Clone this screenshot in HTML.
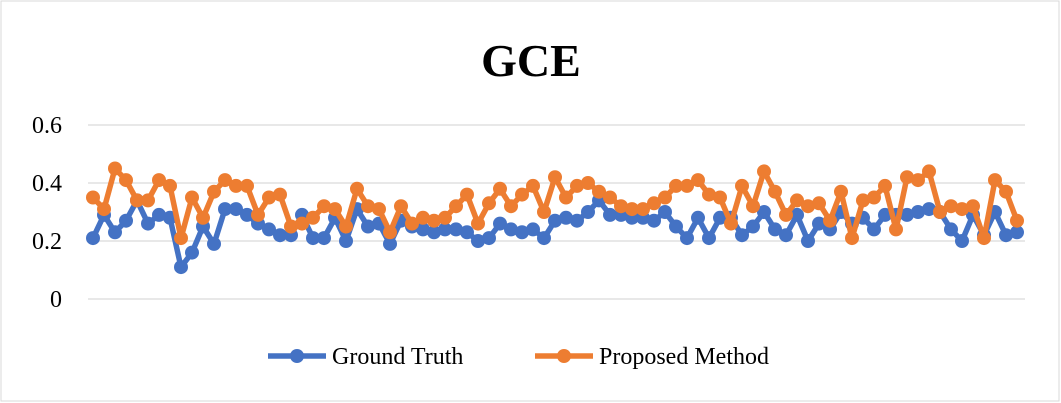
<!DOCTYPE html>
<html><head><meta charset="utf-8"><style>
body{margin:0;background:#fff;}
svg{display:block;font-family:"Liberation Serif",serif;}
</style></head><body>
<svg id="chart" width="1061" height="403">
<rect x="1" y="1" width="1058" height="400" fill="#fff" stroke="#d9d9d9"/>
<text x="531" y="76" text-anchor="middle" font-size="46" font-weight="bold">GCE</text>
<g id="grid"></g><g id="series"></g>
<g>
<g>
<line x1="268" y1="356" x2="326" y2="356" stroke="#4472c4" stroke-width="5.5"/><circle cx="297" cy="356" r="7" fill="#4472c4"/>
<text x="332" y="364" font-size="24">Ground Truth</text></g>
<g>
<line x1="535" y1="356" x2="593" y2="356" stroke="#ed7d31" stroke-width="5.5"/><circle cx="564" cy="356" r="7" fill="#ed7d31"/>
<text x="599" y="364" font-size="24">Proposed Method</text></g>
</g>
</svg>
<script>
const yTicks=[0,0.2,0.4,0.6];
const yTickLabels=["0","0.2","0.4","0.6"];
const groundTruth=[0.21,0.29,0.23,0.27,0.34,0.26,0.29,0.28,0.11,0.16,0.25,0.19,0.31,0.31,0.29,0.26,0.24,0.22,0.22,0.29,0.21,0.21,0.28,0.20,0.31,0.25,0.26,0.19,0.27,0.25,0.24,0.23,0.24,0.24,0.23,0.20,0.21,0.26,0.24,0.23,0.24,0.21,0.27,0.28,0.27,0.30,0.34,0.29,0.29,0.28,0.28,0.27,0.30,0.25,0.21,0.28,0.21,0.28,0.28,0.22,0.25,0.30,0.24,0.22,0.29,0.20,0.26,0.24,0.30,0.26,0.28,0.24,0.29,0.29,0.29,0.30,0.31,0.30,0.24,0.20,0.29,0.22,0.30,0.22,0.23];
const proposed=[0.35,0.31,0.45,0.41,0.34,0.34,0.41,0.39,0.21,0.35,0.28,0.37,0.41,0.39,0.39,0.29,0.35,0.36,0.25,0.26,0.28,0.32,0.31,0.25,0.38,0.32,0.31,0.23,0.32,0.26,0.28,0.27,0.28,0.32,0.36,0.26,0.33,0.38,0.32,0.36,0.39,0.30,0.42,0.35,0.39,0.40,0.37,0.35,0.32,0.31,0.31,0.33,0.35,0.39,0.39,0.41,0.36,0.35,0.26,0.39,0.32,0.44,0.37,0.29,0.34,0.32,0.33,0.27,0.37,0.21,0.34,0.35,0.39,0.24,0.42,0.41,0.44,0.30,0.32,0.31,0.32,0.21,0.41,0.37,0.27];
const NS="http://www.w3.org/2000/svg";
const x0=93,x1=1017,yBase=299,yTop=125;
const xs=i=>x0+i*(x1-x0)/(groundTruth.length-1);
const ys=v=>yBase-(v/0.6)*(yBase-yTop);
const grid=document.getElementById('grid');
yTicks.forEach((t,i)=>{
 const l=document.createElementNS(NS,'line');
 l.setAttribute('x1',88);l.setAttribute('x2',1025);l.setAttribute('y1',ys(t));l.setAttribute('y2',ys(t));
 l.setAttribute('stroke','#d9d9d9');l.setAttribute('stroke-width','1.3');
 
 
 grid.appendChild(l);
 const tx=document.createElementNS(NS,'text');
 tx.setAttribute('x',62);tx.setAttribute('y',ys(t)+8);tx.setAttribute('text-anchor','end');tx.setAttribute('font-size','24');
 tx.textContent=yTickLabels[i];
 
 
 grid.appendChild(tx);
});
const sg=document.getElementById('series');
function draw(data,color,name){
 const g=document.createElementNS(NS,'g');
 
 
 const p=document.createElementNS(NS,'polyline');
 p.setAttribute('points',data.map((v,i)=>xs(i)+','+ys(v)).join(' '));
 p.setAttribute('fill','none');p.setAttribute('stroke',color);p.setAttribute('stroke-width','5.5');p.setAttribute('stroke-linejoin','round');
 
 
 g.appendChild(p);
 data.forEach((v,i)=>{
  const c=document.createElementNS(NS,'circle');
  c.setAttribute('cx',xs(i));c.setAttribute('cy',ys(v));c.setAttribute('r','7');c.setAttribute('fill',color);
  
  
  g.appendChild(c);
 });
 sg.appendChild(g);
}
draw(groundTruth,'#4472c4','ground-truth-series');
draw(proposed,'#ed7d31','proposed-method-series');
</script>
</body></html>
